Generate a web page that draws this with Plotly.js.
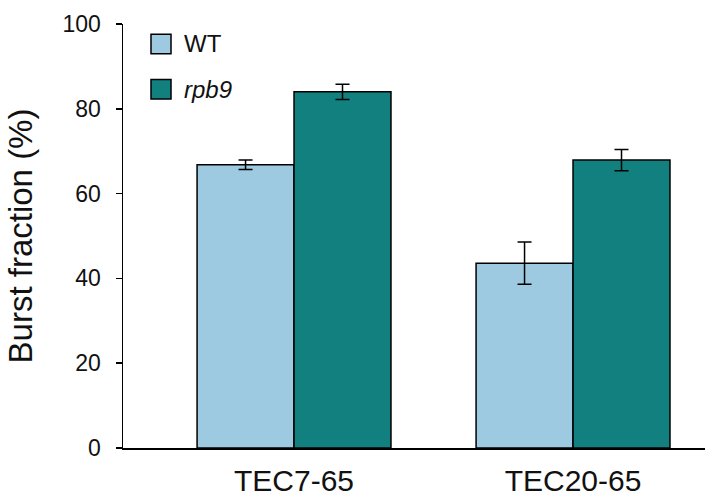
<!DOCTYPE html>
<html>
<head>
<meta charset="utf-8">
<script src="https://cdn.plot.ly/plotly-3.0.1.min.js"></script>
<style>html,body{margin:0;padding:0;background:#fff}#chart{width:705px;height:497px}</style>
</head>
<body>
<div id="chart"></div>
<script>
var categories = ["TEC7-65", "TEC20-65"];
var seriesNames = ["WT", "<i>rpb9</i>"];
var wtValues = [66.8, 43.6];
var wtErrors = [1.1, 5.0];
var rpb9Values = [84.0, 67.9];
var rpb9Errors = [1.8, 2.5];
var yTicks = [0, 20, 40, 60, 80, 100];
var colors = ["#9ecae1", "#138080"];

var font = "Liberation Sans, Arial, sans-serif";

function barTrace(name, vals, errs, color) {
  return {
    type: "bar", name: name, x: categories, y: vals,
    marker: {color: color, line: {color: "#000", width: 1.5}},
    error_y: {type: "data", array: errs, visible: true, color: "#000", thickness: 1.5, width: 7},
    showlegend: false
  };
}

var data = [
  barTrace(seriesNames[0], wtValues, wtErrors, colors[0]),
  barTrace(seriesNames[1], rpb9Values, rpb9Errors, colors[1])
];

var shapes = [];
var annotations = [];
var legendTop = [97.6, 86.9];
for (var i = 0; i < seriesNames.length; i++) {
  shapes.push({type: "rect", xref: "paper", yref: "y",
    x0: 0.0481, x1: 0.0825, y0: legendTop[i] - 4.6, y1: legendTop[i],
    fillcolor: colors[i], line: {color: "#000", width: 1.5}});
  annotations.push({xref: "paper", yref: "y", x: 0.101, y: legendTop[i] - 2.3,
    xanchor: "left", yanchor: "middle", showarrow: false, text: seriesNames[i],
    font: {family: font, size: 24, color: "#111"}});
}

var layout = {
  width: 705, height: 497,
  margin: {l: 123, r: 0, t: 24, b: 49},
  paper_bgcolor: "#fff", plot_bgcolor: "#fff",
  barmode: "group", bargap: 0.305, bargroupgap: 0,
  font: {family: font, color: "#111"},
  xaxis: {
    type: "category", range: [-0.613, 1.473], automargin: false,
    showline: true, linecolor: "#000", linewidth: 1.5,
    ticks: "", showgrid: false, zeroline: false, ticklabelstandoff: 5,
    tickfont: {family: font, size: 30, color: "#111"}
  },
  yaxis: {
    range: [0, 100], tickvals: yTicks, ticktext: yTicks.map(String), automargin: false,
    showline: true, linecolor: "#000", linewidth: 1.5,
    ticks: "outside", ticklen: 6, tickwidth: 1.5, tickcolor: "#000",
    showgrid: false, zeroline: false, ticklabelstandoff: 10,
    tickfont: {family: font, size: 23, color: "#111"},
    title: {text: "Burst fraction (%)", font: {family: font, size: 33, color: "#111"}, standoff: 20}
  },
  shapes: shapes,
  annotations: annotations
};

Plotly.newPlot("chart", data, layout, {displayModeBar: false, staticPlot: true});
</script>
</body>
</html>
